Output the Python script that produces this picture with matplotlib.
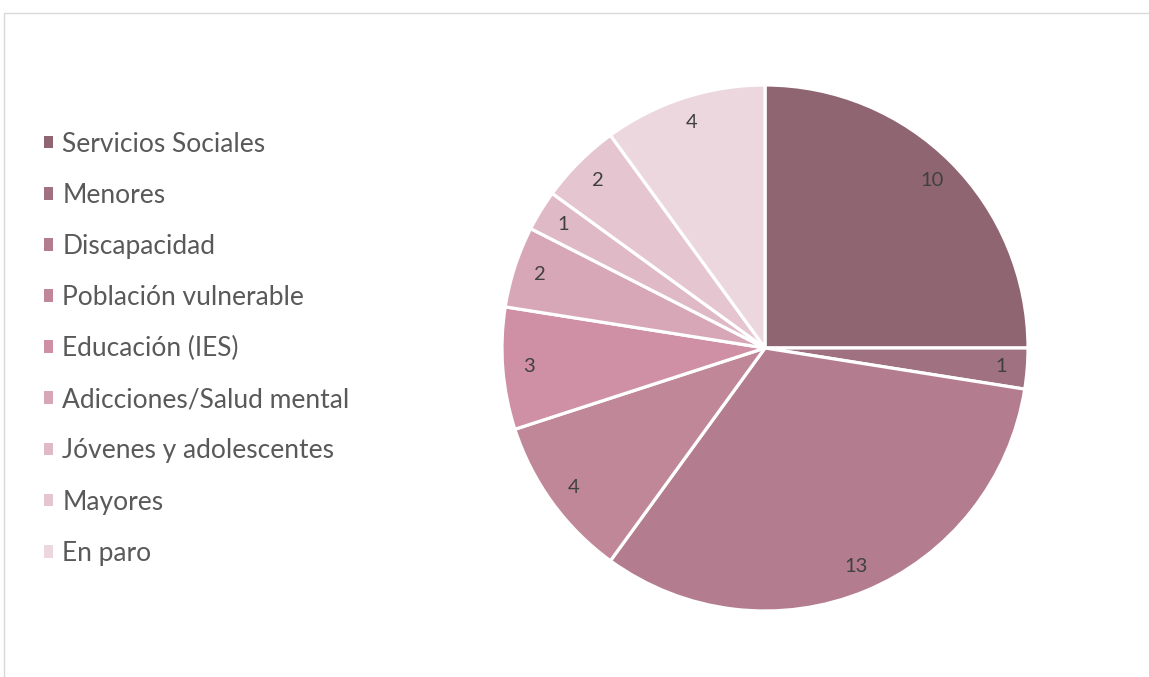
import matplotlib
matplotlib.use("Agg")
import matplotlib.pyplot as plt
from matplotlib.patches import Patch, Rectangle

categories = ["Servicios Sociales", "Menores", "Discapacidad", "Población vulnerable",
              "Educación (IES)", "Adicciones/Salud mental", "Jóvenes y adolescentes",
              "Mayores", "En paro"]
values = [10, 1, 13, 4, 3, 2, 1, 2, 4]
colors = ["#8F6572", "#A07180", "#B47D8F", "#C08798", "#CF90A5",
          "#D7A7B7", "#DFB9C6", "#E5C6D0", "#ECD7DE"]

plt.rcParams['font.family'] = ['Lato', 'DejaVu Sans']

W, H = 1149, 677
fig = plt.figure(figsize=(W / 100, H / 100), dpi=100)

# chart border
fig.patches.append(Rectangle((3.5 / W, -0.1), 1.2, 1.1 - 12.5 / H,
                             transform=fig.transFigure, fill=False,
                             edgecolor="#D9D9D9", linewidth=1.0))

cx, cy, r = 765, 677 - 348, 263
ax = fig.add_axes([(cx - r) / W, (cy - r) / H, 2 * r / W, 2 * r / H])
wedges, _, autotexts = ax.pie(values, colors=colors, startangle=90, counterclock=False,
                              radius=1.0, autopct=lambda p: f"{round(p * sum(values) / 100):d}",
                              pctdistance=0.9,
                              wedgeprops=dict(edgecolor="white", linewidth=2.3),
                              textprops=dict(color="#404040", fontsize=14.5))
ax.set_xlim(-1, 1)
ax.set_ylim(-1, 1)
ax.set_aspect("equal")
ax.axis("off")

handles = [Patch(facecolor=c, edgecolor="none") for c in colors]
fig.legend(handles, categories, loc="upper left", bbox_to_anchor=(33 / W, 1 - 121 / H),
           frameon=False, fontsize=19, labelcolor="#595959",
           handlelength=0.36, handleheight=0.36, handletextpad=0.35, labelspacing=0.99,
           borderaxespad=0)

fig.savefig("out.png", dpi=100)
